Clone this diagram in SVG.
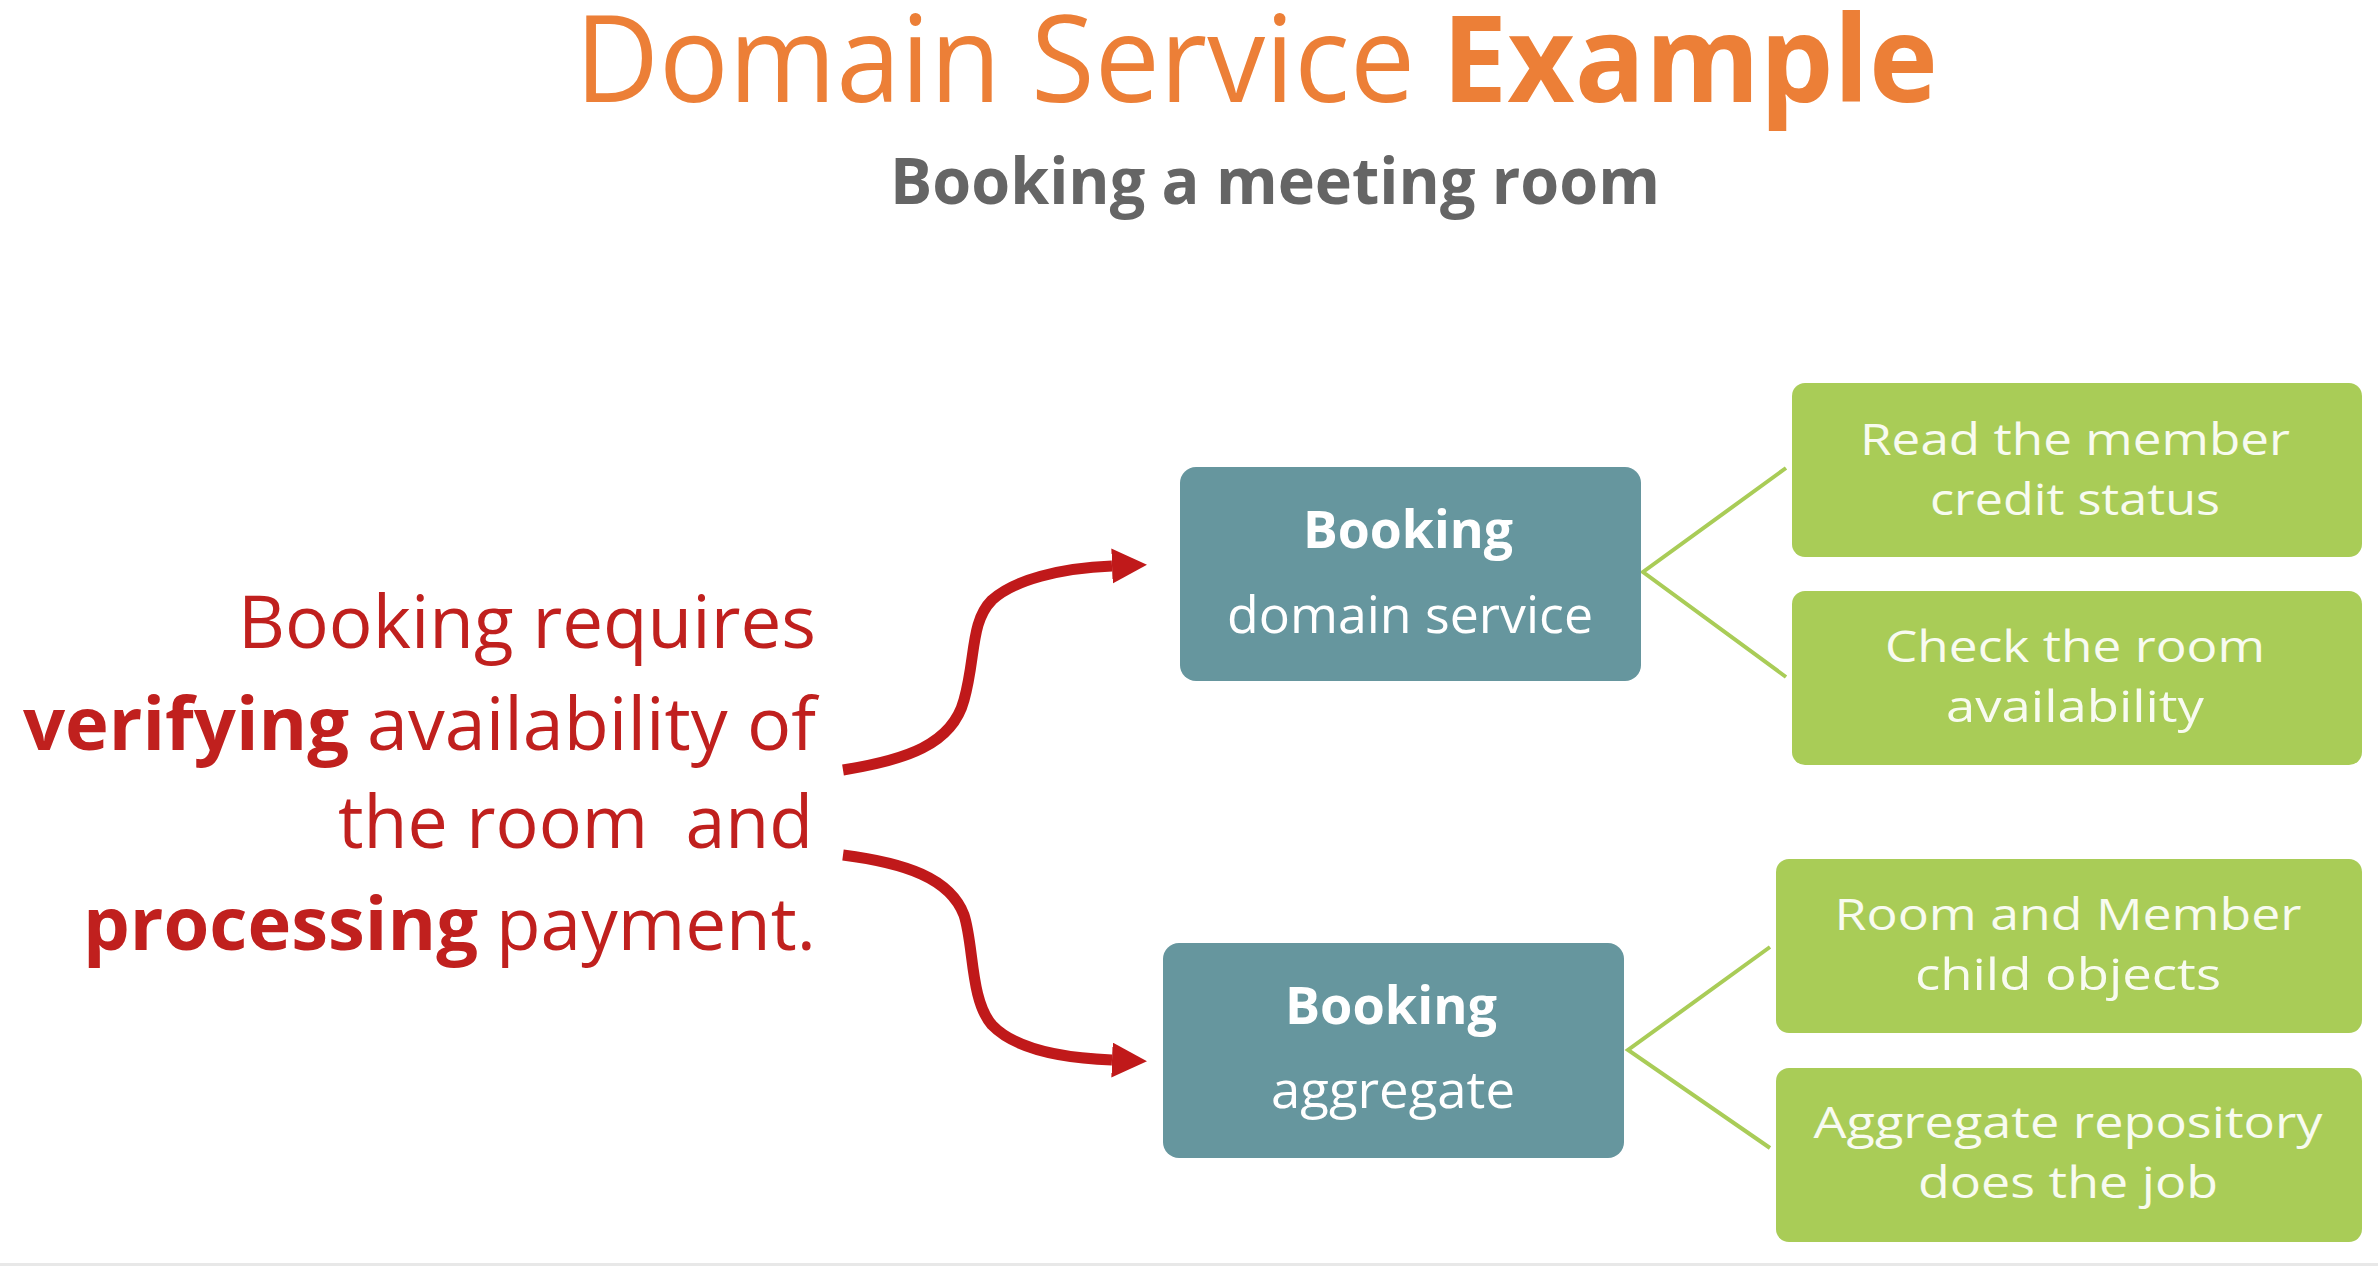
<svg xmlns="http://www.w3.org/2000/svg" width="2378" height="1266" viewBox="0 0 2378 1266">
  <defs>
    <style>
      text { font-family: "Open Sans", "Liberation Sans", sans-serif; }
      .title { fill: #EC7F37; font-size: 120px; }
      .sub { fill: #656565; font-size: 65px; font-weight: bold; }
      .red { fill: #C0201E; font-size: 73px; }
      .b { font-weight: bold; }
      .teal { fill: #66969E; }
      .green { fill: #A9CC57; }
      .tt { fill: #FFFFFF; font-size: 52px; text-anchor: middle; }
      .gt { fill: #F8FBF0; font-size: 44px; text-anchor: middle; }
      .arrow { fill: none; stroke: #C0191A; stroke-width: 11; stroke-linecap: butt; }
      .link { fill: none; stroke: #A9CC57; stroke-width: 4; }
    </style>
    <marker id="ah" markerUnits="userSpaceOnUse" markerWidth="36" markerHeight="36" refX="0" refY="17.5" orient="auto">
      <path d="M0,0 L35,17.5 L0,35 z" fill="#C0191A"/>
    </marker>
  </defs>
  <rect x="0" y="0" width="2378" height="1266" fill="#FFFFFF"/>
  <rect x="0" y="1263" width="2378" height="3" fill="#E8E8E8"/>

  <g id="title">
    <text class="title" x="575" y="102" textLength="840" lengthAdjust="spacingAndGlyphs">Domain Service</text>
    <text class="title b" x="1442" y="102" textLength="496" lengthAdjust="spacingAndGlyphs">Example</text>
    <text class="sub" x="890" y="204" textLength="770" lengthAdjust="spacingAndGlyphs">Booking a meeting room</text>
  </g>

  <g id="requirement">
    <text class="red" x="238" y="648" textLength="578" lengthAdjust="spacingAndGlyphs">Booking requires</text>
    <text class="red b" x="23" y="750" textLength="326" lengthAdjust="spacingAndGlyphs">verifying</text>
    <text class="red" x="367" y="750" textLength="449" lengthAdjust="spacingAndGlyphs">availability of</text>
    <text class="red" x="338" y="848" textLength="475" lengthAdjust="spacingAndGlyphs" xml:space="preserve">the room  and</text>
    <text class="red b" x="83" y="950" textLength="395" lengthAdjust="spacingAndGlyphs">processing</text>
    <text class="red" x="496" y="950" textLength="320" lengthAdjust="spacingAndGlyphs">payment.</text>
  </g>

  <g id="connectors">
    <path class="arrow" marker-end="url(#ah)" d="M843,770 C905,760 952,745 964,700 C976,658 970,622 992,600 C1014,580 1060,568 1112,566"/>
    <path class="arrow" marker-end="url(#ah)" d="M843,855 C905,863 950,878 964,915 C974,945 970,1000 992,1025 C1014,1048 1060,1058 1112,1060"/>
    <polyline class="link" points="1786,468 1643,572 1786,677"/>
    <polyline class="link" points="1770,947 1628,1050 1770,1148"/>
  </g>

  <g id="booking-domain-service">
    <rect class="teal" x="1180" y="467" width="461" height="214" rx="16"/>
    <text class="tt b" x="1408" y="548" textLength="210" lengthAdjust="spacingAndGlyphs">Booking</text>
    <text class="tt" x="1410" y="633" textLength="366" lengthAdjust="spacingAndGlyphs" xml:space="preserve">domain service</text>
  </g>

  <g id="booking-aggregate">
    <rect class="teal" x="1163" y="943" width="461" height="215" rx="16"/>
    <text class="tt b" x="1391" y="1024" textLength="212" lengthAdjust="spacingAndGlyphs">Booking</text>
    <text class="tt" x="1393" y="1108" textLength="244" lengthAdjust="spacingAndGlyphs">aggregate</text>
  </g>

  <g id="read-member-credit">
    <rect class="green" x="1792" y="383" width="570" height="174" rx="13"/>
    <text class="gt" x="2075" y="455" textLength="430" lengthAdjust="spacingAndGlyphs">Read the member</text>
    <text class="gt" x="2075" y="515" textLength="290" lengthAdjust="spacingAndGlyphs">credit status</text>
  </g>

  <g id="check-room-availability">
    <rect class="green" x="1792" y="591" width="570" height="174" rx="13"/>
    <text class="gt" x="2075" y="662" textLength="380" lengthAdjust="spacingAndGlyphs">Check the room</text>
    <text class="gt" x="2075" y="722" textLength="258" lengthAdjust="spacingAndGlyphs">availability</text>
  </g>

  <g id="room-member-children">
    <rect class="green" x="1776" y="859" width="586" height="174" rx="13"/>
    <text class="gt" x="2068" y="930" textLength="467" lengthAdjust="spacingAndGlyphs">Room and Member</text>
    <text class="gt" x="2068" y="990" textLength="306" lengthAdjust="spacingAndGlyphs">child objects</text>
  </g>

  <g id="aggregate-repository">
    <rect class="green" x="1776" y="1068" width="586" height="174" rx="13"/>
    <text class="gt" x="2068" y="1138" textLength="509" lengthAdjust="spacingAndGlyphs">Aggregate repository</text>
    <text class="gt" x="2068" y="1198" textLength="300" lengthAdjust="spacingAndGlyphs">does the job</text>
  </g>
</svg>
